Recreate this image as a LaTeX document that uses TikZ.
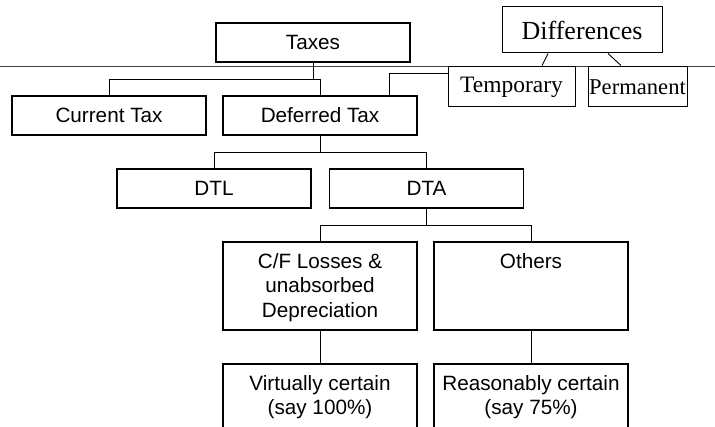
\documentclass[tikz,border=0pt]{standalone}
\usepackage{fontspec}
\setmainfont{Liberation Sans}
\newfontfamily\timesfont{Liberation Serif}
\tikzset{
  box/.style={draw, line width=1.1pt, minimum width=194pt, minimum height=39pt, inner sep=0pt,
    font=\fontsize{20.7}{24.5}\selectfont},
  tallbox/.style={box, minimum height=88pt},
  boxtext/.style={anchor=north, align=center, inner sep=0pt, yshift=-11.5pt,
    font=\fontsize{20.7}{24.5}\selectfont},
  serifbox/.style={draw, line width=1pt, inner sep=0pt},
  link/.style={line width=1pt}
}
\begin{document}
\begin{tikzpicture}[x=1pt,y=-1pt]
\useasboundingbox (0,0) rectangle (715,427);
\clip (0,0) rectangle (715,427);

% Drawing the long rule
\coordinate (ruleL) at (0,66);
\coordinate (ruleR) at (715,66);
\draw [line width=0.8pt, black!75] (ruleL) -- (ruleR);

% Marking boxes of the tree
\node [box] (taxes)  at (313,42.5)  {Taxes};
\node [box] (curtax) at (109,115.5) {Current Tax};
\node [box] (deftax) at (320,115.5) {Deferred Tax};
\node [box] (dtl)    at (214,188.5) {DTL};
\node [box] (dta)    at (426.5,188.5) {DTA};
\node [tallbox] (cfl)    at (320,286) {};
\node [tallbox] (others) at (531,286) {};
\node [tallbox] (virt)   at (320,408) {};
\node [tallbox] (reas)   at (531,408) {};
\node [boxtext] (cfltext)    at (cfl.north)    {C/F Losses \&\\unabsorbed\\Depreciation};
\node [boxtext] (otherstext) at (others.north) {Others};
\node [boxtext] (virttext)   at (virt.north)   {Virtually certain\\(say 100\%)};
\node [boxtext] (reastext)   at (reas.north)   {Reasonably certain\\(say 75\%)};

% Marking boxes of the differences
\node [serifbox, minimum width=160pt, minimum height=46pt, font=\timesfont\fontsize{26}{28}\selectfont]
  (diff) at (582,30) {Differences};
\node [serifbox, minimum width=127pt, minimum height=40pt, font=\timesfont\fontsize{23.5}{26}\selectfont]
  (temp) at (511.5,87) {Temporary};
\node [serifbox, minimum width=99pt, minimum height=40pt, font=\timesfont\fontsize{22.6}{26}\selectfont]
  (perm) at (637.5,87) {Permanent};

% Drawing the tree links
\draw [link] (taxes.south) -- ++(0,17) -| (curtax.north);
\draw [link] (taxes.south) -- ++(0,17) -| (deftax.north);
\draw [link] (deftax.south) -- ++(0,17) -| (dtl.north);
\draw [link] (deftax.south) -- ++(0,17) -| (dta.north);
\draw [link] (dta.south) -- ++(0,17) -| (cfl.north);
\draw [link] (dta.south) -- ++(0,17) -| (others.north);
\draw [link] (cfl.south) -- (virt.north);
\draw [link] (others.south) -- (reas.north);

% Drawing link Deferred Tax to Temporary
\draw [line width=0.9pt] ([xshift=69pt]deftax.north) |- ([yshift=14pt]temp.west);

% Drawing links of Differences
\draw [line width=0.9pt] ([xshift=-34pt]diff.south) -- ([xshift=30.5pt,yshift=1pt]temp.north);
\draw [line width=0.9pt] ([xshift=26pt]diff.south) -- ([xshift=-16.5pt,yshift=1pt]perm.north);
\end{tikzpicture}
\end{document}
